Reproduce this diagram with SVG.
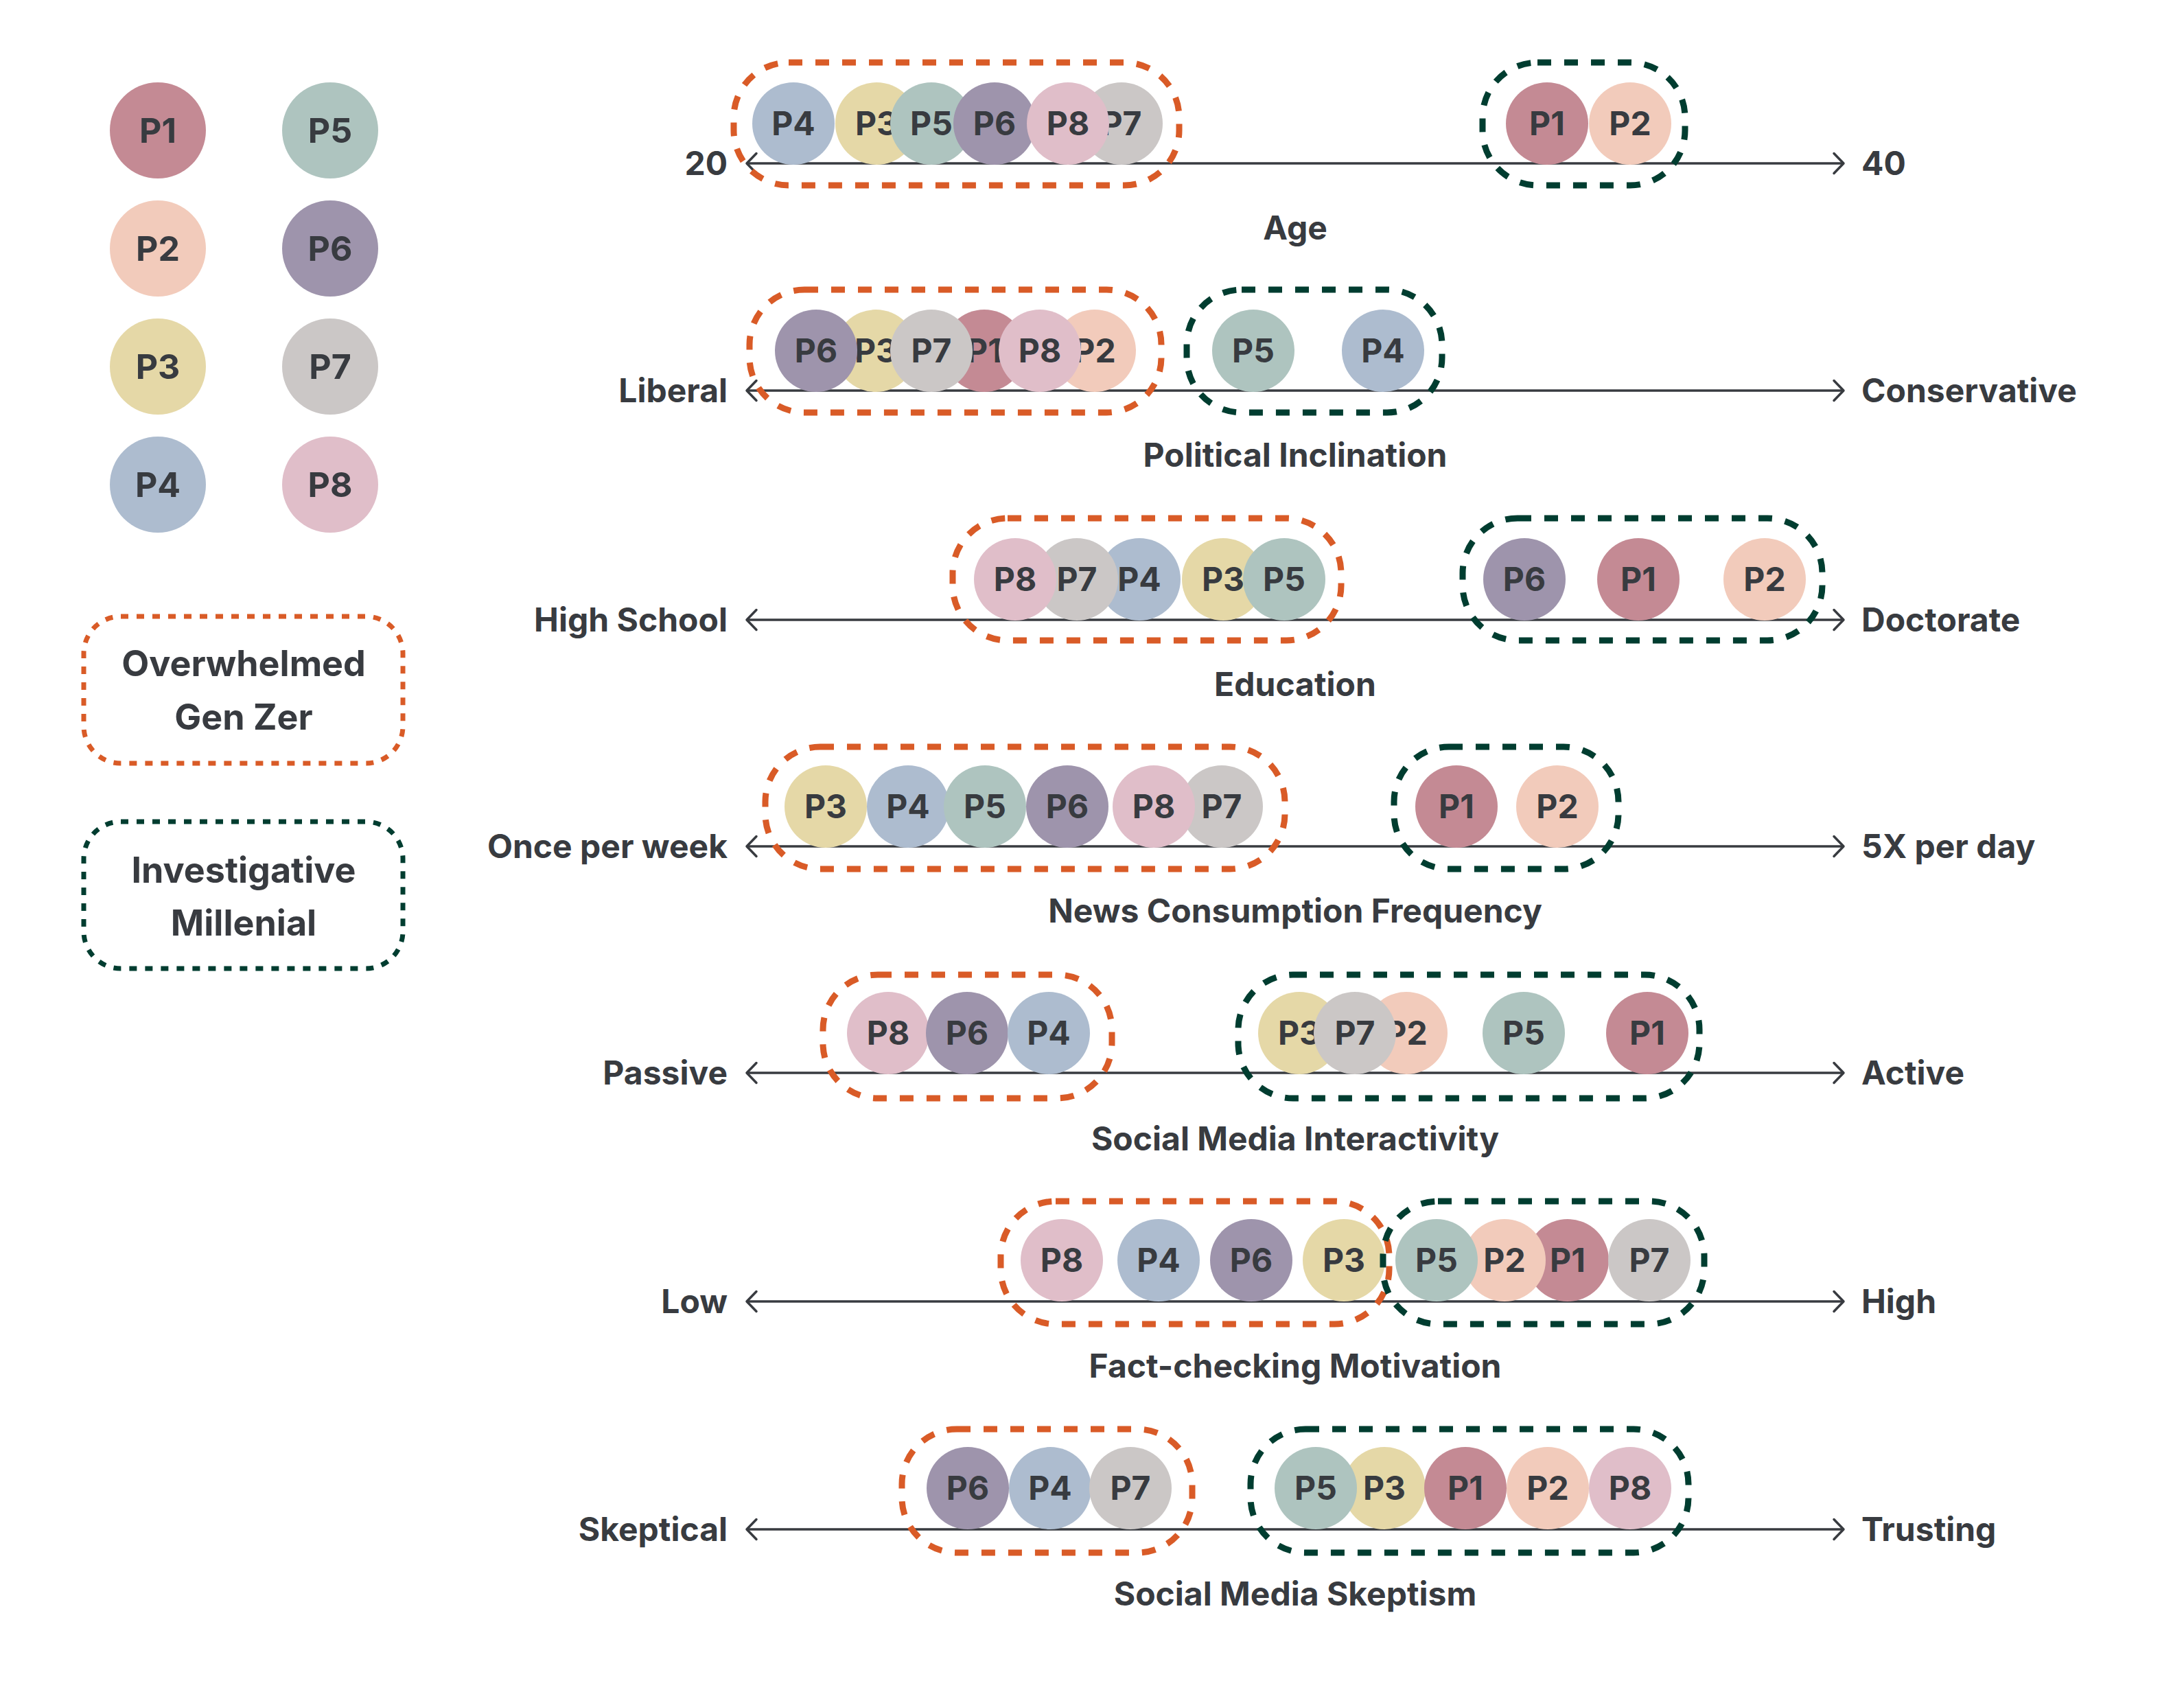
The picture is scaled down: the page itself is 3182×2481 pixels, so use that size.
<svg xmlns="http://www.w3.org/2000/svg" width="3182" height="2481" viewBox="0 0 3182 2481">
<style>
text{font-family:Inter,"Noto Sans","Liberation Sans",sans-serif;fill:#383b40;font-weight:700}
.lbl{font-size:48px;text-anchor:middle}
.lgl{font-size:50px;text-anchor:middle}
.ax{font-size:48px}
.end{text-anchor:end}
.ttl{font-size:48px;text-anchor:middle}
.leg{font-size:52px;text-anchor:middle}
.c1{fill:#c48a94}.c2{fill:#f2cbbb}.c3{fill:#e5d8a7}.c4{fill:#adbccf}
.c5{fill:#aec4bf}.c6{fill:#9e94ac}.c7{fill:#cbc7c6}.c8{fill:#e0bec9}
.og{fill:none;stroke:#d95b27;stroke-width:9;stroke-dasharray:20 19}
.gg{fill:none;stroke:#003d30;stroke-width:9;stroke-dasharray:20 19}
.ogl{fill:none;stroke:#d95b27;stroke-width:7;stroke-dasharray:11 12}
.ggl{fill:none;stroke:#003d30;stroke-width:7;stroke-dasharray:11 12}
.axis{stroke:#383b40;stroke-width:3.5;fill:none;marker-start:url(#chev);marker-end:url(#chev)}
</style>
<defs>
<marker id="chev" markerUnits="userSpaceOnUse" markerWidth="24" markerHeight="40" refX="18" refY="18" orient="auto-start-reverse" viewBox="0 0 24 36">
<path d="M4,3.5 L18,18 L4,32.5" fill="none" stroke="#383b40" stroke-width="3.5" stroke-linecap="round" stroke-linejoin="round"/>
</marker>
</defs>
<rect width="3182" height="2481" fill="#ffffff"/>

<g id="legend">
<g id="leg-p1"><circle class="c1" cx="230" cy="190" r="70"/><text class="lgl" x="230" y="208">P1</text></g>
<g id="leg-p2"><circle class="c2" cx="230" cy="362" r="70"/><text class="lgl" x="230" y="380">P2</text></g>
<g id="leg-p3"><circle class="c3" cx="230" cy="534" r="70"/><text class="lgl" x="230" y="552">P3</text></g>
<g id="leg-p4"><circle class="c4" cx="230" cy="706" r="70"/><text class="lgl" x="230" y="724">P4</text></g>
<g id="leg-p5"><circle class="c5" cx="481" cy="190" r="70"/><text class="lgl" x="481" y="208">P5</text></g>
<g id="leg-p6"><circle class="c6" cx="481" cy="362" r="70"/><text class="lgl" x="481" y="380">P6</text></g>
<g id="leg-p7"><circle class="c7" cx="481" cy="534" r="70"/><text class="lgl" x="481" y="552">P7</text></g>
<g id="leg-p8"><circle class="c8" cx="481" cy="706" r="70"/><text class="lgl" x="481" y="724">P8</text></g>
<g id="leg-genz"><rect class="ogl" x="122" y="898" width="465" height="214" rx="54"/><text class="leg" x="355" y="985">Overwhelmed</text><text class="leg" x="355" y="1063">Gen Zer</text></g>
<g id="leg-mill"><rect class="ggl" x="122" y="1197" width="465" height="214" rx="54"/><text class="leg" x="355" y="1286">Investigative</text><text class="leg" x="355" y="1363">Millenial</text></g>
</g>

<g id="connectors">
<line class="axis" x1="1088" y1="238" x2="2686" y2="238"/>
<line class="axis" x1="1088" y1="569" x2="2686" y2="569"/>
<line class="axis" x1="1088" y1="903" x2="2686" y2="903"/>
<line class="axis" x1="1088" y1="1233" x2="2686" y2="1233"/>
<line class="axis" x1="1088" y1="1563" x2="2686" y2="1563"/>
<line class="axis" x1="1088" y1="1896" x2="2686" y2="1896"/>
<line class="axis" x1="1088" y1="2228" x2="2686" y2="2228"/>
</g>

<g id="row-age">
<text class="ax end" x="1060" y="255">20</text><text class="ax" x="2712" y="255">40</text>
<text class="ttl" x="1887" y="349">Age</text>
<g id="age-p4"><circle class="c4" cx="1156" cy="180" r="60"/><text class="lbl" x="1156" y="197">P4</text></g>
<g id="age-p3"><circle class="c3" cx="1277" cy="180" r="60"/><text class="lbl" x="1277" y="197">P3</text></g>
<g id="age-p5"><circle class="c5" cx="1357" cy="180" r="60"/><text class="lbl" x="1357" y="197">P5</text></g>
<g id="age-p6"><circle class="c6" cx="1449" cy="180" r="60"/><text class="lbl" x="1449" y="197">P6</text></g>
<g id="age-p7"><circle class="c7" cx="1634" cy="180" r="60"/><text class="lbl" x="1634" y="197">P7</text></g>
<g id="age-p8"><circle class="c8" cx="1556" cy="180" r="60"/><text class="lbl" x="1556" y="197">P8</text></g>
<g id="age-p1"><circle class="c1" cx="2254" cy="180" r="60"/><text class="lbl" x="2254" y="197">P1</text></g>
<g id="age-p2"><circle class="c2" cx="2375" cy="180" r="60"/><text class="lbl" x="2375" y="197">P2</text></g>
<rect id="age-genz" class="og" x="1069" y="91" width="649" height="179" rx="80"/>
<rect id="age-mill" class="gg" x="2160" y="91" width="295" height="179" rx="80"/>
</g>

<g id="row-political">
<text class="ax end" x="1060" y="586">Liberal</text><text class="ax" x="2712" y="586">Conservative</text>
<text class="ttl" x="1887" y="680">Political Inclination</text>
<g id="pol-p3"><circle class="c3" cx="1276" cy="511" r="60"/><text class="lbl" x="1276" y="528">P3</text></g>
<g id="pol-p1"><circle class="c1" cx="1434" cy="511" r="60"/><text class="lbl" x="1434" y="528">P1</text></g>
<g id="pol-p2"><circle class="c2" cx="1595" cy="511" r="60"/><text class="lbl" x="1595" y="528">P2</text></g>
<g id="pol-p6"><circle class="c6" cx="1189" cy="511" r="60"/><text class="lbl" x="1189" y="528">P6</text></g>
<g id="pol-p7"><circle class="c7" cx="1357" cy="511" r="60"/><text class="lbl" x="1357" y="528">P7</text></g>
<g id="pol-p8"><circle class="c8" cx="1515" cy="511" r="60"/><text class="lbl" x="1515" y="528">P8</text></g>
<g id="pol-p5"><circle class="c5" cx="1826" cy="511" r="60"/><text class="lbl" x="1826" y="528">P5</text></g>
<g id="pol-p4"><circle class="c4" cx="2015" cy="511" r="60"/><text class="lbl" x="2015" y="528">P4</text></g>
<rect id="pol-genz" class="og" x="1092" y="422" width="600" height="179" rx="80"/>
<rect id="pol-mill" class="gg" x="1729" y="422" width="372" height="179" rx="80"/>
</g>

<g id="row-education">
<text class="ax end" x="1060" y="920">High School</text><text class="ax" x="2712" y="920">Doctorate</text>
<text class="ttl" x="1887" y="1014">Education</text>
<g id="edu-p4"><circle class="c4" cx="1660" cy="844" r="60"/><text class="lbl" x="1660" y="861">P4</text></g>
<g id="edu-p7"><circle class="c7" cx="1569" cy="844" r="60"/><text class="lbl" x="1569" y="861">P7</text></g>
<g id="edu-p8"><circle class="c8" cx="1479" cy="844" r="60"/><text class="lbl" x="1479" y="861">P8</text></g>
<g id="edu-p3"><circle class="c3" cx="1782" cy="844" r="60"/><text class="lbl" x="1782" y="861">P3</text></g>
<g id="edu-p5"><circle class="c5" cx="1871" cy="844" r="60"/><text class="lbl" x="1871" y="861">P5</text></g>
<g id="edu-p6"><circle class="c6" cx="2221" cy="844" r="60"/><text class="lbl" x="2221" y="861">P6</text></g>
<g id="edu-p1"><circle class="c1" cx="2387" cy="844" r="60"/><text class="lbl" x="2387" y="861">P1</text></g>
<g id="edu-p2"><circle class="c2" cx="2571" cy="844" r="60"/><text class="lbl" x="2571" y="861">P2</text></g>
<rect id="edu-genz" class="og" x="1388" y="755" width="566" height="178" rx="80"/>
<rect id="edu-mill" class="gg" x="2131" y="755" width="524" height="178" rx="80"/>
</g>

<g id="row-news">
<text class="ax end" x="1060" y="1250">Once per week</text><text class="ax" x="2712" y="1250">5X per day</text>
<text class="ttl" x="1887" y="1344">News Consumption Frequency</text>
<g id="news-p3"><circle class="c3" cx="1203" cy="1175" r="60"/><text class="lbl" x="1203" y="1192">P3</text></g>
<g id="news-p4"><circle class="c4" cx="1323" cy="1175" r="60"/><text class="lbl" x="1323" y="1192">P4</text></g>
<g id="news-p5"><circle class="c5" cx="1435" cy="1175" r="60"/><text class="lbl" x="1435" y="1192">P5</text></g>
<g id="news-p6"><circle class="c6" cx="1555" cy="1175" r="60"/><text class="lbl" x="1555" y="1192">P6</text></g>
<g id="news-p7"><circle class="c7" cx="1780" cy="1175" r="60"/><text class="lbl" x="1780" y="1192">P7</text></g>
<g id="news-p8"><circle class="c8" cx="1681" cy="1175" r="60"/><text class="lbl" x="1681" y="1192">P8</text></g>
<g id="news-p1"><circle class="c1" cx="2122" cy="1175" r="60"/><text class="lbl" x="2122" y="1192">P1</text></g>
<g id="news-p2"><circle class="c2" cx="2269" cy="1175" r="60"/><text class="lbl" x="2269" y="1192">P2</text></g>
<rect id="news-genz" class="og" x="1115" y="1088" width="757" height="178" rx="80"/>
<rect id="news-mill" class="gg" x="2031" y="1088" width="327" height="178" rx="80"/>
</g>

<g id="row-interactivity">
<text class="ax end" x="1060" y="1580">Passive</text><text class="ax" x="2712" y="1580">Active</text>
<text class="ttl" x="1887" y="1676">Social Media Interactivity</text>
<g id="int-p8"><circle class="c8" cx="1294" cy="1505" r="60"/><text class="lbl" x="1294" y="1522">P8</text></g>
<g id="int-p6"><circle class="c6" cx="1409" cy="1505" r="60"/><text class="lbl" x="1409" y="1522">P6</text></g>
<g id="int-p4"><circle class="c4" cx="1528" cy="1505" r="60"/><text class="lbl" x="1528" y="1522">P4</text></g>
<g id="int-p3"><circle class="c3" cx="1893" cy="1505" r="60"/><text class="lbl" x="1893" y="1522">P3</text></g>
<g id="int-p2"><circle class="c2" cx="2049" cy="1505" r="60"/><text class="lbl" x="2049" y="1522">P2</text></g>
<g id="int-p7"><circle class="c7" cx="1974" cy="1505" r="60"/><text class="lbl" x="1974" y="1522">P7</text></g>
<g id="int-p5"><circle class="c5" cx="2220" cy="1505" r="60"/><text class="lbl" x="2220" y="1522">P5</text></g>
<g id="int-p1"><circle class="c1" cx="2400" cy="1505" r="60"/><text class="lbl" x="2400" y="1522">P1</text></g>
<rect id="int-genz" class="og" x="1199" y="1420" width="421" height="180" rx="80"/>
<rect id="int-mill" class="gg" x="1804" y="1420" width="672" height="180" rx="80"/>
</g>

<g id="row-factcheck">
<text class="ax end" x="1060" y="1913">Low</text><text class="ax" x="2712" y="1913">High</text>
<text class="ttl" x="1887" y="2007">Fact-checking Motivation</text>
<g id="fc-p8"><circle class="c8" cx="1547" cy="1836" r="60"/><text class="lbl" x="1547" y="1853">P8</text></g>
<g id="fc-p4"><circle class="c4" cx="1688" cy="1836" r="60"/><text class="lbl" x="1688" y="1853">P4</text></g>
<g id="fc-p6"><circle class="c6" cx="1823" cy="1836" r="60"/><text class="lbl" x="1823" y="1853">P6</text></g>
<g id="fc-p3"><circle class="c3" cx="1958" cy="1836" r="60"/><text class="lbl" x="1958" y="1853">P3</text></g>
<g id="fc-p1"><circle class="c1" cx="2284" cy="1836" r="60"/><text class="lbl" x="2284" y="1853">P1</text></g>
<g id="fc-p2"><circle class="c2" cx="2192" cy="1836" r="60"/><text class="lbl" x="2192" y="1853">P2</text></g>
<g id="fc-p5"><circle class="c5" cx="2093" cy="1836" r="60"/><text class="lbl" x="2093" y="1853">P5</text></g>
<g id="fc-p7"><circle class="c7" cx="2403" cy="1836" r="60"/><text class="lbl" x="2403" y="1853">P7</text></g>
<rect id="fc-genz" class="og" x="1458" y="1750" width="566" height="179" rx="80"/>
<rect id="fc-mill" class="gg" x="2015" y="1750" width="468" height="179" rx="80"/>
</g>

<g id="row-skeptism">
<text class="ax end" x="1060" y="2245">Skeptical</text><text class="ax" x="2712" y="2245">Trusting</text>
<text class="ttl" x="1887" y="2339">Social Media Skeptism</text>
<g id="sk-p6"><circle class="c6" cx="1410" cy="2168" r="60"/><text class="lbl" x="1410" y="2185">P6</text></g>
<g id="sk-p4"><circle class="c4" cx="1530" cy="2168" r="60"/><text class="lbl" x="1530" y="2185">P4</text></g>
<g id="sk-p7"><circle class="c7" cx="1647" cy="2168" r="60"/><text class="lbl" x="1647" y="2185">P7</text></g>
<g id="sk-p3"><circle class="c3" cx="2017" cy="2168" r="60"/><text class="lbl" x="2017" y="2185">P3</text></g>
<g id="sk-p5"><circle class="c5" cx="1917" cy="2168" r="60"/><text class="lbl" x="1917" y="2185">P5</text></g>
<g id="sk-p1"><circle class="c1" cx="2135" cy="2168" r="60"/><text class="lbl" x="2135" y="2185">P1</text></g>
<g id="sk-p2"><circle class="c2" cx="2255" cy="2168" r="60"/><text class="lbl" x="2255" y="2185">P2</text></g>
<g id="sk-p8"><circle class="c8" cx="2375" cy="2168" r="60"/><text class="lbl" x="2375" y="2185">P8</text></g>
<rect id="sk-genz" class="og" x="1314" y="2082" width="423" height="180" rx="80"/>
<rect id="sk-mill" class="gg" x="1822" y="2082" width="638" height="180" rx="80"/>
</g>
</svg>
